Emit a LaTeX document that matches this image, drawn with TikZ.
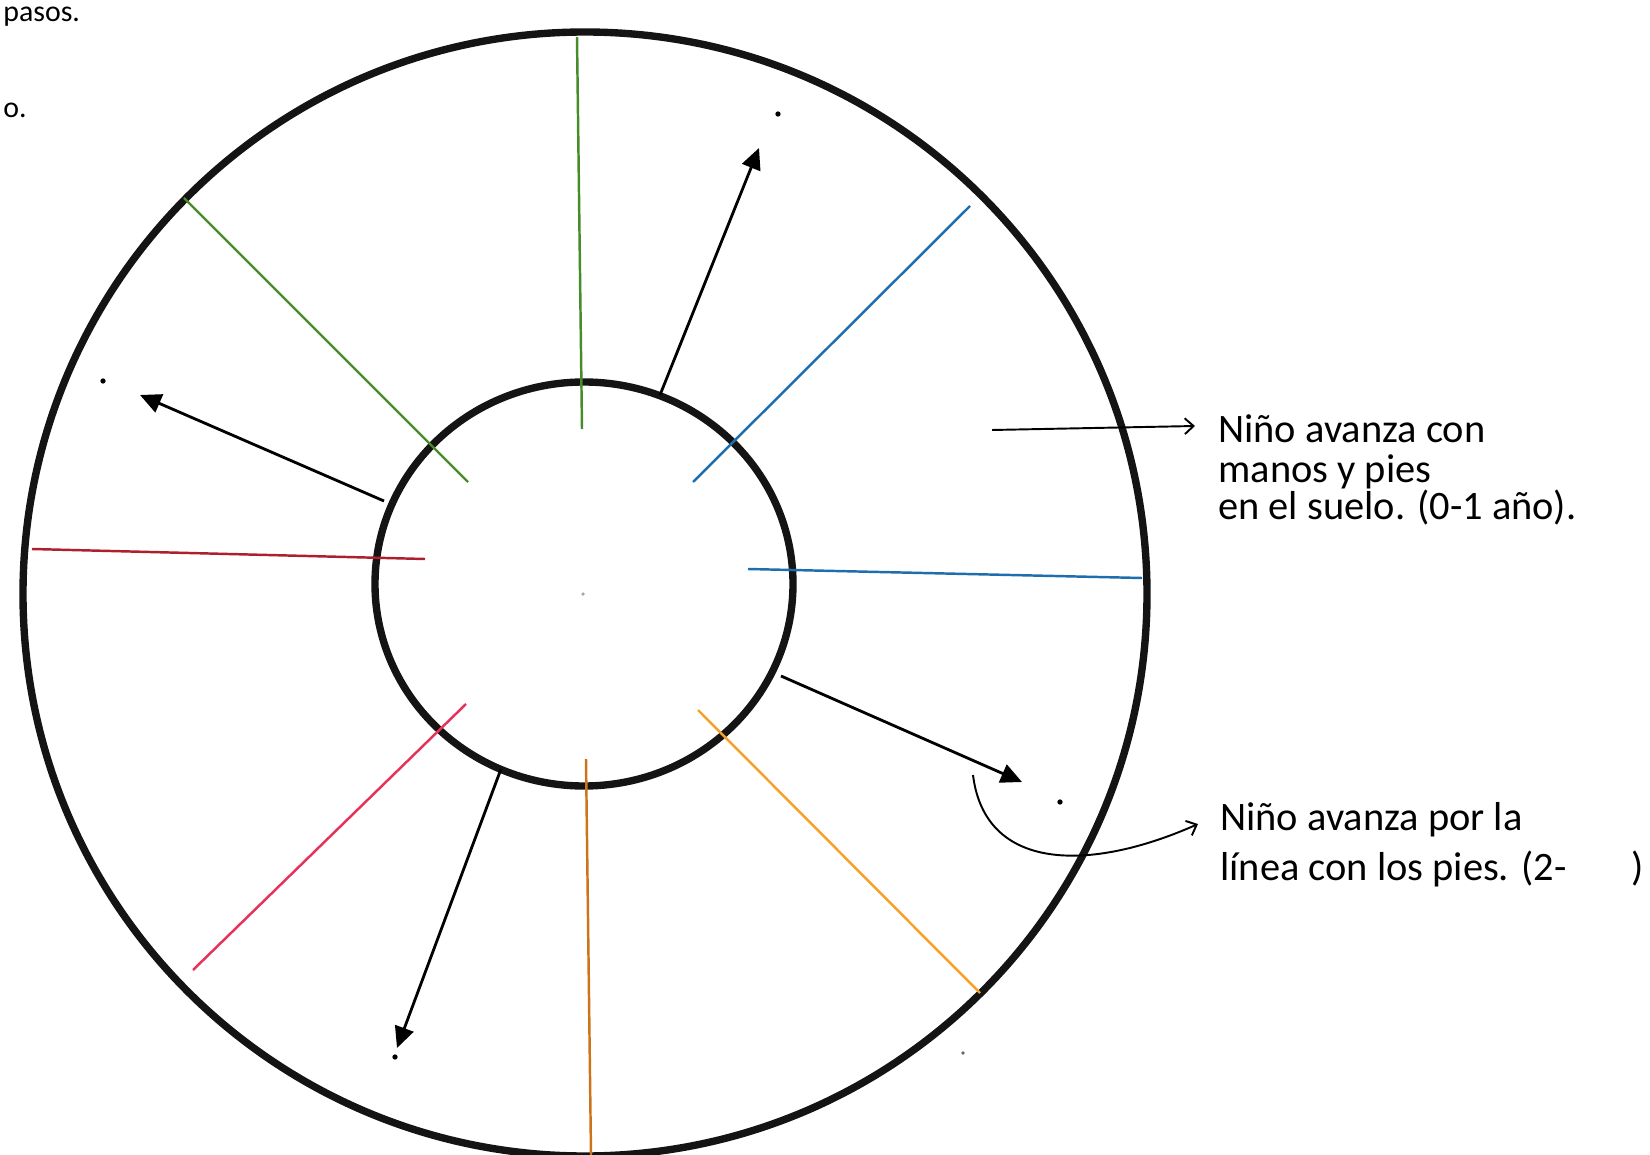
\documentclass[tikz,border=0pt]{standalone}
\usepackage{fontspec}
\setmainfont{Carlito}
\usetikzlibrary{arrows.meta}
\definecolor{grn}{RGB}{70,140,40}
\definecolor{blu}{RGB}{30,110,175}
\definecolor{redd}{RGB}{175,30,45}
\definecolor{pnk}{RGB}{230,50,90}
\definecolor{ornb}{RGB}{205,115,25}
\definecolor{ornl}{RGB}{245,160,40}
\begin{document}
\begin{tikzpicture}[x=0.02cm,y=-0.02cm,
  ring/.style={line width=4.2pt, black!92},
  spoke/.style={line width=1.4pt},
  ptr/.style={line width=1.6pt, black, -{Triangle[length=12pt,width=11pt]}},
  callout/.style={line width=1.1pt, black, -{Straight Barb[length=5pt,width=9pt]}},
  speck/.style={circle, fill=black, inner sep=0pt, minimum size=3pt},
  lbl/.style={anchor=base west, font=\fontsize{23}{27}\selectfont, inner sep=0pt}
]
\useasboundingbox (0,0) rectangle (1650,1155);
\clip (0,0) rectangle (1650,1155);

% centres
\coordinate (oc) at (585,594);
\coordinate (ic) at (584,584);

% rings
\draw[ring] (oc) ellipse [x radius=562, y radius=562];
\draw[ring] (ic) ellipse [x radius=209, y radius=202];

% spoke end points
\coordinate (g1a) at (577,37);   \coordinate (g1b) at (582,429);
\coordinate (g2a) at (184,198);  \coordinate (g2b) at (468,482);
\coordinate (b1a) at (970,206);  \coordinate (b1b) at (693,482);
\coordinate (b2a) at (1142,578); \coordinate (b2b) at (748,569);
\coordinate (r1a) at (32,549);   \coordinate (r1b) at (425,559);
\coordinate (p1a) at (193,970);  \coordinate (p1b) at (466,704);
\coordinate (o1a) at (591,1155); \coordinate (o1b) at (586,759);
\coordinate (o2a) at (980,993);  \coordinate (o2b) at (698,710);

\draw[spoke, grn] (g1a) -- (g1b);
\draw[spoke, grn] (g2a) -- (g2b);
\draw[spoke, blu] (b1a) -- (b1b);
\draw[spoke, blu] (b2a) -- (b2b);
\draw[spoke, redd] (r1a) -- (r1b);
\draw[spoke, pnk] (p1a) -- (p1b);
\draw[spoke, ornb] (o1a) -- (o1b);
\draw[spoke, ornl] (o2a) -- (o2b);

% direction arrows
\coordinate (a1s) at (660,395);  \coordinate (a1e) at (759,148);
\coordinate (a2s) at (384,501);  \coordinate (a2e) at (140,395);
\coordinate (a3s) at (781,676);  \coordinate (a3e) at (1022,782);
\coordinate (a4s) at (501,769);  \coordinate (a4e) at (397,1048);
\draw[ptr] (a1s) -- (a1e);
\draw[ptr] (a2s) -- (a2e);
\draw[ptr] (a3s) -- (a3e);
\draw[ptr] (a4s) -- (a4e);

% dots
\node[speck] (d1) at (778,114) {};
\node[speck] (d2) at (103,381) {};
\node[speck] (d3) at (1060,802) {};
\node[speck] (d4) at (395,1057) {};
\node[speck, fill=black!60, minimum size=2.2pt] (d5) at (963,1053) {};
\node[speck, fill=black!35, minimum size=2pt] (d6) at (583,594) {};

% top-left fragments
\node[lbl, font=\fontsize{17}{20}\selectfont] (tl1) at (3,22) {pasos.};
\node[lbl, font=\fontsize{17}{20}\selectfont] (tl2) at (3,118) {o.};

% label 1
\coordinate (c1s) at (992,430);
\node[lbl] (t1a) at (1218,442) {Niño avanza con};
\node[lbl] (t1b) at (1218,482) {manos y pies};
\node[lbl] (t1c) at (1218,520) {en el suelo. (0-1 año).};
\coordinate (c1e) at (1195,426);
\draw[callout] (c1s) -- (c1e);

% label 2
\coordinate (c2s) at (973,775);
\coordinate (c2e) at (1198,824);
\node[lbl] (t2a) at (1220,830) {Niño avanza por la};
\node[lbl] (t2b) at (1220,880) {línea con los pies. (2-\hspace{1.6em})};
\draw[callout] (c2s) .. controls (985,872) and (1090,872) .. (c2e);
\end{tikzpicture}
\end{document}
